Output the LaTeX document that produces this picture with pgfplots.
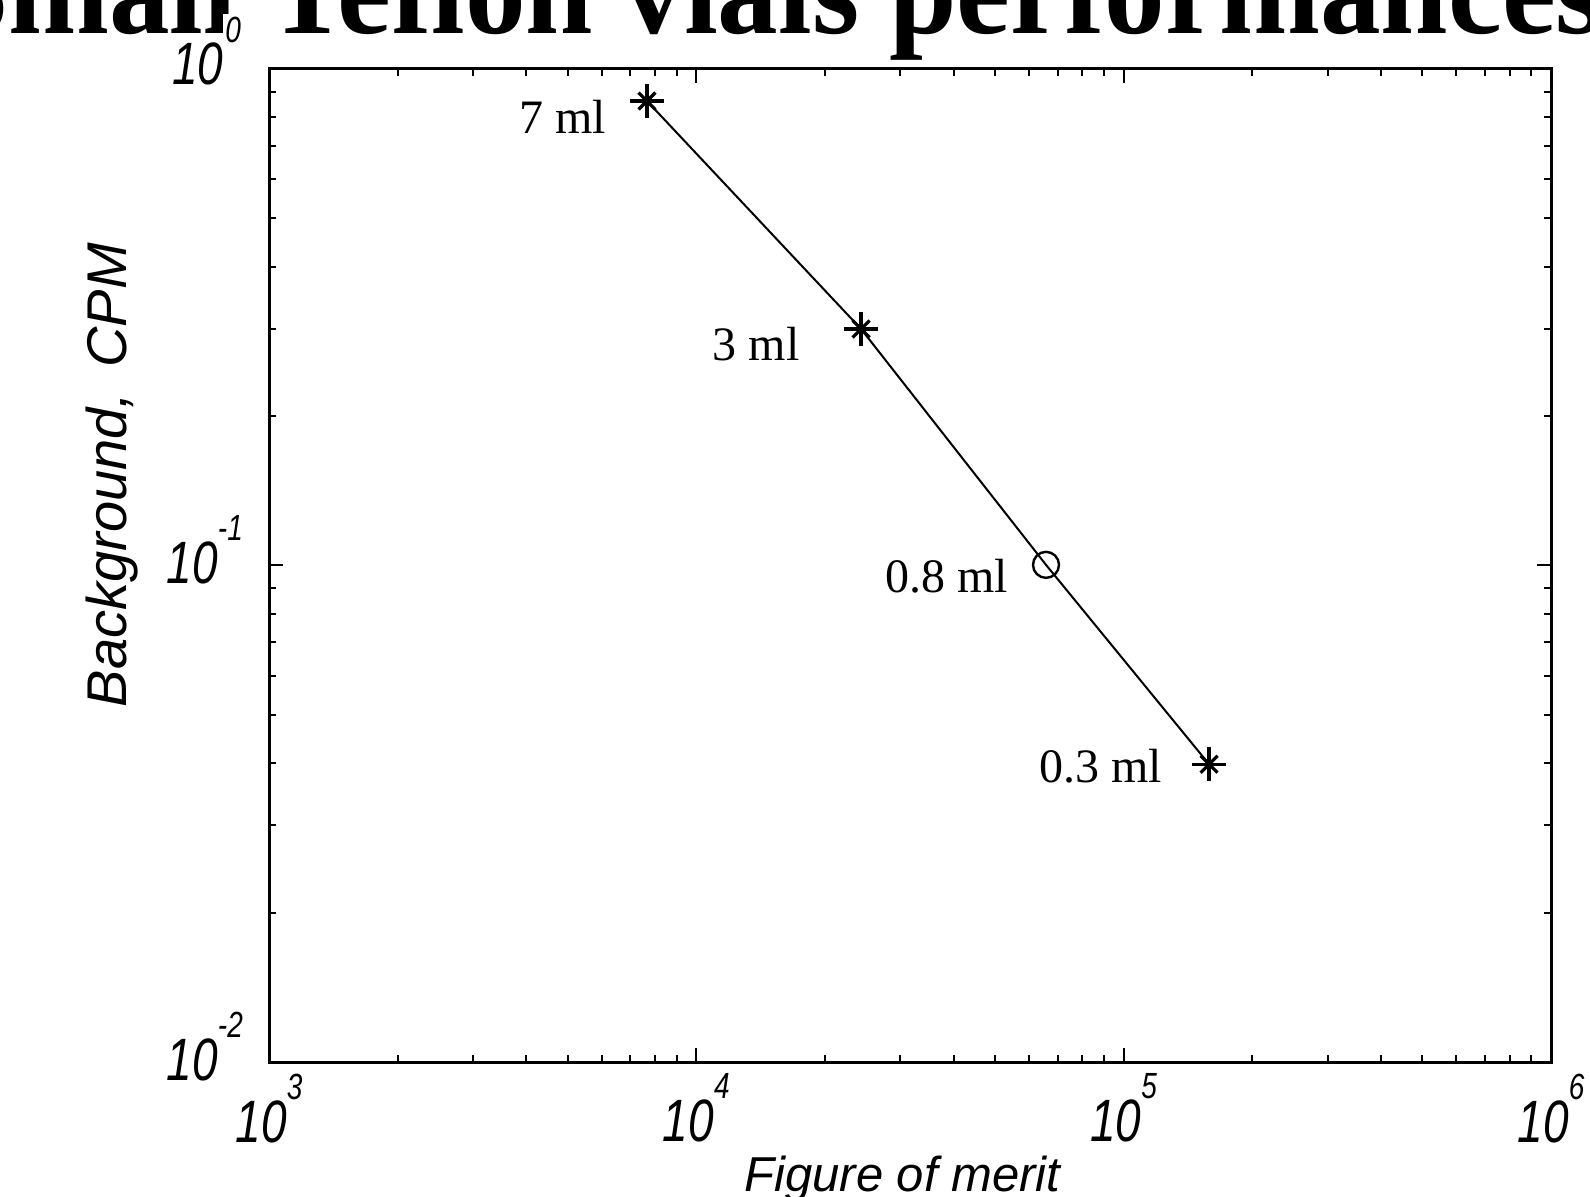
\documentclass[border=0pt]{standalone}
\usepackage{fontspec}
\setmainfont{Liberation Serif}
\setsansfont{Liberation Sans}
\usepackage{pgfplots}
\pgfplotsset{compat=1.18}
\newcommand{\tenp}[1]{10\raisebox{16.5pt}{\fontsize{14}{14}\selectfont #1}}
\newcommand{\tenpw}[1]{10\raisebox{16.5pt}{\fontsize{14}{14}\selectfont\setlength{\fboxsep}{1pt}\colorbox{white}{#1}}}
\begin{document}
\begin{tikzpicture}[x=1pt,y=1pt]
\useasboundingbox (0,0) rectangle (795,598.5);
\clip (0,0) rectangle (795,598.5);
\node[anchor=base, font=\fontsize{60}{60}\selectfont\bfseries, inner sep=0pt, yscale=1.05, xscale=1.01] at (386,581.5) {Small Teflon vials performances};
\begin{axis}[
  at={(134.5pt,67.5pt)}, anchor=south west,
  scale only axis, width=641pt, height=496.5pt,
  line width=1.5pt,
  xmode=log, ymode=log,
  xmin=1e3, xmax=1e6, ymin=1e-2, ymax=1,
  xtick={1e3,1e4,1e5,1e6}, ytick={1e-2,1e-1,1},
  xticklabels={\tenp{3},\tenp{4},\tenp{5},\tenp{6}},
  yticklabels={\tenp{-2},\tenp{-1},\raisebox{3pt}{\tenpw{0}}},
  tick label style={font=\fontsize{23}{23}\selectfont\sffamily\itshape, yscale=1.3},
  xticklabel style={yshift=-0.5pt},
  yticklabel style={xshift=-9pt, yshift=6pt},
  axis line style={line width=1.5pt},
  major tick length=7pt, minor tick length=3.5pt,
  every tick/.style={black, line width=1pt},
  clip=false,
]
\addplot[black, line width=1pt, mark=none] coordinates {(7666,0.862) (24290,0.2995) (65800,0.1003) (158400,0.0398)};
\addplot[black, only marks, mark=+, mark size=8.5pt, mark options={line width=1.6pt}] coordinates {(7666,0.862) (24290,0.2995) (158400,0.0398)};
\addplot[black, only marks, mark=x, mark size=6pt, mark options={line width=1.6pt}] coordinates {(7666,0.862) (24290,0.2995) (158400,0.0398)};
\addplot[black, only marks, mark=o, mark size=6.5pt, mark options={line width=1.2pt}] coordinates {(65800,0.1003)};
\node[anchor=base, font=\fontsize{24}{24}\selectfont] at (rel axis cs:0.2293,0.9355) {7 ml};
\node[anchor=base, font=\fontsize{24}{24}\selectfont] at (rel axis cs:0.3799,0.7069) {3 ml};
\node[anchor=base, font=\fontsize{24}{24}\selectfont] at (rel axis cs:0.5285,0.4733) {0.8 ml};
\node[anchor=base, font=\fontsize{24}{24}\selectfont] at (rel axis cs:0.6486,0.2810) {0.3 ml};
\node[anchor=base, rotate=90, font=\fontsize{28}{28}\selectfont\sffamily\itshape] at (rel axis cs:-0.1108,0.591) {Background,\hspace{0.45em}CPM};
\node[anchor=base, font=\fontsize{24.5}{24.5}\selectfont\sffamily\itshape] at (rel axis cs:0.494,-0.1304) {Figure of merit};
\end{axis}
\end{tikzpicture}
\end{document}
